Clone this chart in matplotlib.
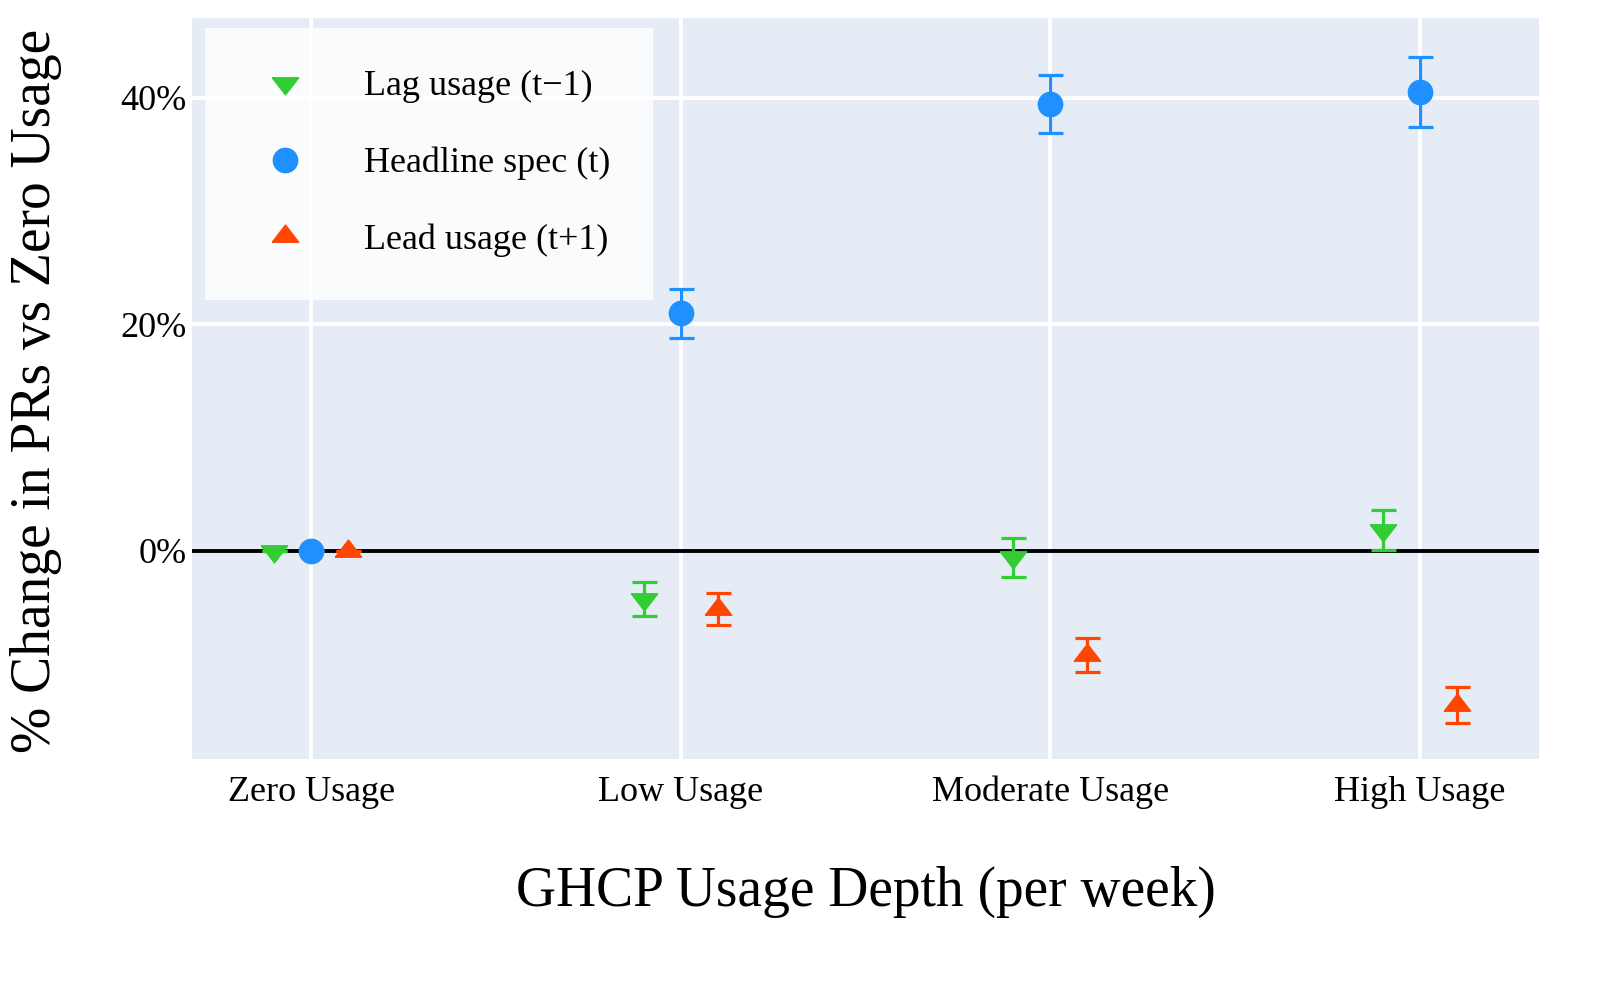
import matplotlib
matplotlib.use("Agg")
import matplotlib.pyplot as plt
import matplotlib.ticker as ticker
from matplotlib.lines import Line2D
import numpy as np

plt.rcParams['font.family'] = ['Liberation Serif', 'DejaVu Serif']

# Data (percent change vs zero usage)
categories = ["Zero Usage", "Low Usage", "Moderate Usage", "High Usage"]
lag_values = [0.0, -4.3, -0.6, 1.85]
lag_errors = [0.0, 1.5, 1.7, 1.75]
headline_values = [0.0, 20.95, 39.45, 40.5]
headline_errors = [0.0, 2.15, 2.55, 3.05]
lead_values = [0.0, -5.15, -9.2, -13.6]
lead_errors = [0.0, 1.45, 1.5, 1.6]
y_ticks = [0, 20, 40]

# plotly-like triangles (wider than tall)
tri_up = [(-1.155, -0.5), (1.155, -0.5), (0, 1.0), (-1.155, -0.5)]
tri_down = [(-1.155, 0.5), (1.155, 0.5), (0, -1.0), (-1.155, 0.5)]

GREEN = "#32CD32"
BLUE = "#1E90FF"
RED = "#FF4500"

fig = plt.figure(figsize=(16, 10), dpi=100)
ax = fig.add_axes([0.12, 0.241, 0.842, 0.7406])
ax.set_facecolor("#E5ECF6")

x = np.arange(len(categories))
offset = 0.1
err_kw = dict(linestyle="none", elinewidth=2.3, capthick=2.3, capsize=9,
              zorder=4)

series = [
    ("Lag usage (t\u22121)", x - offset, lag_values, lag_errors, tri_down, 19, GREEN),
    ("Headline spec (t)", x, headline_values, headline_errors, "o", 17.5, BLUE),
    ("Lead usage (t+1)", x + offset, lead_values, lead_errors, tri_up, 19, RED),
]
handles = []
for label, xs, vals, errs, mk, ms, col in series:
    ax.errorbar(xs, vals, yerr=errs, marker=mk, markersize=ms, color=col,
                ecolor=col, **err_kw)
    handles.append(Line2D([], [], linestyle="none", marker=mk, markersize=ms,
                          color=col, label=label))

ax.axhline(0, color="black", linewidth=2.8, zorder=3)

ax.set_xlim(-0.323, 3.323)
ax.set_ylim(-18.4, 47.0)
ax.set_xticks(x)
ax.set_xticklabels(categories)
ax.set_yticks(y_ticks)
ax.yaxis.set_major_formatter(ticker.FuncFormatter(lambda v, p: f"{v:.0f}%"))
ax.tick_params(axis="x", length=0, pad=12, labelsize=26)
ax.tick_params(axis="y", length=0, pad=4, labelsize=26)

ax.grid(True, color="white", linewidth=2.8, zorder=0)
ax.set_axisbelow(True)
for s in ax.spines.values():
    s.set_visible(False)

fig.text(0.5415, 0.108, "GHCP Usage Depth (per week)", ha="center",
         va="center", fontsize=40)
fig.text(0.0225, 0.609, "% Change in PRs vs Zero Usage", ha="center",
         va="center", rotation=90, fontsize=40)

leg = ax.legend(handles=handles, loc="upper left",
                bbox_to_anchor=(0.128, 0.9725),
                bbox_transform=fig.transFigure, fontsize=26,
                frameon=True, fancybox=False, borderpad=1.18,
                labelspacing=1.2, handlelength=2.1, handletextpad=1.14,
                borderaxespad=0)
leg.get_frame().set_facecolor("white")
leg.get_frame().set_alpha(0.8)
leg.get_frame().set_edgecolor("none")

fig.savefig("out.png", dpi=100)
